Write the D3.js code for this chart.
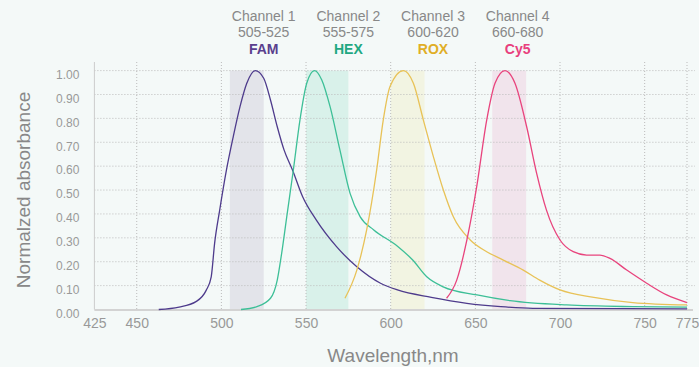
<!DOCTYPE html>
<html>
<head>
<meta charset="utf-8">
<script src="https://cdn.jsdelivr.net/npm/d3@7"></script>
<style>
  body { margin: 0; background: #f4f9f8; }
  svg { display: block; font-family: "Liberation Sans", Arial, sans-serif; }
</style>
</head>
<body>
<svg width="699" height="367"></svg>
<script>
// wavelength (nm) / normalized absorbance
const famNm  = [463, 475, 485, 491, 494, 496, 499, 503, 507, 511, 515, 520, 525, 529, 533, 537, 542, 548, 556, 568, 580, 594, 604, 624, 645, 665, 684, 775]
const famAbs = [0, 0.01, 0.033, 0.08, 0.137, 0.277, 0.416, 0.584, 0.723, 0.849, 0.947, 1, 0.968, 0.877, 0.765, 0.668, 0.584, 0.472, 0.375, 0.263, 0.179, 0.11, 0.082, 0.051, 0.026, 0.012, 0.005, 0.003]

const hexNm  = [511.6, 521, 529, 533, 535.6, 538.6, 542.5, 546.4, 550.4, 555, 559.3, 564.2, 570, 576, 582, 590, 604, 613, 621.3, 631, 651, 670.5, 704, 743, 775]
const hexAbs = [0, 0.012, 0.047, 0.123, 0.235, 0.388, 0.584, 0.793, 0.947, 1, 0.961, 0.849, 0.668, 0.486, 0.388, 0.333, 0.265, 0.207, 0.137, 0.095, 0.061, 0.037, 0.019, 0.012, 0.01]

const roxNm  = [573, 580, 585.8, 591.7, 595.6, 599.6, 607.5, 613.4, 619.3, 625.2, 631.1, 637, 647, 656.7, 666.5, 678.3, 688, 700, 720, 743, 775]
const roxAbs = [0.047, 0.165, 0.333, 0.584, 0.793, 0.933, 1, 0.947, 0.793, 0.64, 0.5, 0.388, 0.291, 0.242, 0.207, 0.165, 0.123, 0.082, 0.051, 0.029, 0.019]

const cy5Nm  = [633, 639, 645, 650.8, 656.7, 661.6, 667.5, 673.4, 680.3, 686.2, 692, 700, 707.8, 715.7, 723.6, 729.5, 739.4, 751.2, 763, 775]
const cy5Abs = [0.047, 0.123, 0.291, 0.514, 0.793, 0.947, 1, 0.947, 0.765, 0.57, 0.416, 0.291, 0.242, 0.228, 0.228, 0.214, 0.165, 0.11, 0.061, 0.029]

const channels = ['Channel 1', 'Channel 2', 'Channel 3', 'Channel 4']
const ranges = ['505-525', '555-575', '600-620', '660-680']
const dyes = ['FAM', 'HEX', 'ROX', 'Cy5']
const bandLo = [505, 550, 600, 660]
const bandHi = [525, 575, 620, 680]
const labelNm = [525, 575, 625, 675]

const xTicks = [425, 450, 500, 550, 600, 650, 700, 750, 775]
const yTicks = d3.range(0, 1.01, 0.1)

const dyeColors = ['#4e3b8c', '#3dbf97', '#e8c257', '#e8447d']
const labelColors = ['#5a3f8e', '#1fa882', '#e0ae26', '#e8407d']
const bandColors = ['#e3e4ea', '#d9f1ea', '#f2f4e2', '#f1e4ec']

const svg = d3.select('svg')
const x = d3.scaleLinear().domain([425, 775]).range([94.4, 687])
const y = d3.scaleLinear().domain([0, 1]).range([309.5, 70.6])

// shaded channel bands
svg.selectAll('rect.band')
	.data(bandLo)
	.join('rect')
	.attr('x', d => x(d))
	.attr('width', (d, i) => x(bandHi[i]) - x(d))
	.attr('y', y(1))
	.attr('height', y(0) - y(1))
	.attr('fill', (d, i) => bandColors[i])

// grid
svg.append('g')
	.selectAll('line')
	.data(yTicks.slice(1))
	.join('line')
	.attr('x1', x(425)).attr('x2', 695)
	.attr('y1', d => y(d)).attr('y2', d => y(d))
	.attr('stroke', '#bbb').attr('stroke-dasharray', '1,2')
svg.append('g')
	.selectAll('line')
	.data(xTicks.slice(1))
	.join('line')
	.attr('x1', d => x(d)).attr('x2', d => x(d))
	.attr('y1', 62).attr('y2', y(0))
	.attr('stroke', '#bbb').attr('stroke-dasharray', '1,2')

// axes
const xAxis = svg.append('g')
	.attr('transform', `translate(0,${y(0)})`)
	.call(d3.axisBottom(x).tickValues(xTicks).tickSize(0).tickPadding(9))
xAxis.select('.domain').remove()
xAxis.selectAll('text').attr('fill', '#999').attr('font-size', 14)
svg.append('line')
	.attr('x1', x(425)).attr('x2', 693)
	.attr('y1', y(0) + 0.5).attr('y2', y(0) + 0.5)
	.attr('stroke', '#d3d3d3').attr('stroke-width', 2)

const yAxis = svg.append('g')
	.attr('transform', `translate(${x(425)},0)`)
	.call(d3.axisLeft(y).tickValues(yTicks).tickFormat(d3.format('.2f')).tickSize(0).tickPadding(15))
yAxis.select('.domain').remove()
yAxis.selectAll('text').attr('fill', '#999').attr('font-size', 12).attr('dy', '0.65em')
svg.append('line')
	.attr('x1', x(425)).attr('x2', x(425))
	.attr('y1', 62).attr('y2', y(0))
	.attr('stroke', '#ccc')

// spectra
const line = d3.line()
	.x(d => x(d[0]))
	.y(d => y(d[1]))
	.curve(d3.curveMonotoneX)
const series = [[famNm, famAbs], [hexNm, hexAbs], [roxNm, roxAbs], [cy5Nm, cy5Abs]]
svg.selectAll('path.spec')
	.data(series)
	.join('path')
	.attr('class', 'spec')
	.attr('d', s => line(d3.zip(s[0], s[1])))
	.attr('fill', 'none')
	.attr('stroke', (d, i) => dyeColors[i])
	.attr('stroke-width', 1.3)

// channel labels
const lab = svg.selectAll('g.lab')
	.data(channels)
	.join('g')
	.attr('transform', (d, i) => `translate(${x(labelNm[i])},0)`)
	.attr('text-anchor', 'middle')
	.attr('font-size', 14)
lab.append('text').attr('y', 21).attr('fill', '#888').text(d => d)
lab.append('text').attr('y', 37).attr('fill', '#888').text((d, i) => ranges[i])
lab.append('text').attr('y', 54).attr('font-weight', 'bold')
	.attr('fill', (d, i) => labelColors[i]).text((d, i) => dyes[i])

// titles
svg.append('text')
	.attr('x', 393).attr('y', 362)
	.attr('text-anchor', 'middle')
	.attr('fill', '#888').attr('font-size', 19)
	.text('Wavelength,nm')
svg.append('text')
	.attr('transform', 'translate(30,190) rotate(-90)')
	.attr('text-anchor', 'middle')
	.attr('fill', '#888').attr('font-size', 19)
	.text('Normalzed absorbance')
</script>
</body>
</html>
